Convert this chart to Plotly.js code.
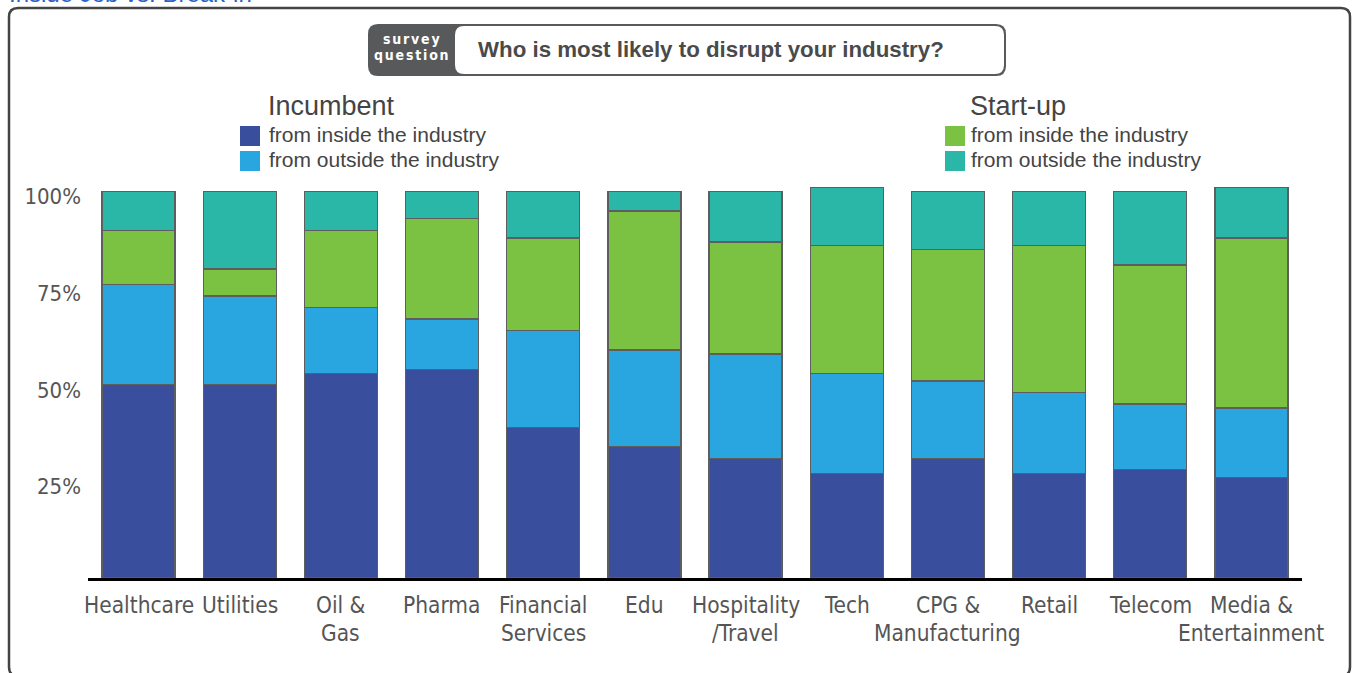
<!DOCTYPE html>
<html>
<head>
<meta charset="utf-8">
<script src="https://cdn.plot.ly/plotly-3.0.1.min.js"></script>
<style>html,body{margin:0;padding:0;background:#fff;}#chart{width:1353px;height:673px;}</style>
</head>
<body>
<div id="chart"></div>
<script>
// ---- data ----
const categories = ['Healthcare','Utilities','Oil & Gas','Pharma','Financial Services','Edu','Hospitality /Travel','Tech','CPG & Manufacturing','Retail','Telecom','Media & Entertainment'];
const tickLabels = ['Healthcare','Utilities','Oil &<br>Gas','Pharma','Financial<br>Services','Edu','Hospitality<br>/Travel','Tech','CPG &<br>Manufacturing','Retail','Telecom','Media &<br>Entertainment'];
const incumbentInside  = [50,50,53,54,39,34,31,27,31,27,28,26];
const incumbentOutside = [26,23,17,13,25,25,27,26,20,21,17,18];
const startupInside    = [14, 7,20,26,24,36,29,33,34,38,36,44];
const startupOutside   = [10,20,10, 7,12, 5,13,15,15,14,19,13];
const yTickVals = [25,50,75,100];
const yTickText = ['25%','50%','75%','100%'];
const seriesNames = ['Incumbent from inside the industry','Incumbent from outside the industry','Start-up from inside the industry','Start-up from outside the industry'];

// ---- styling ----
const W = 1353, H = 673;
const M = {l:88, r:51, t:153, b:95};
const colors = ['#394f9d','#29a6df','#7cc242','#2bb7a8'];
const narrow = '"Liberation Sans Narrow", "DejaVu Sans Condensed", sans-serif';
const sans = 'Arial, "Liberation Sans", Helvetica, sans-serif';
const textGray = '#555555';

const pw = W - M.l - M.r, ph = H - M.t - M.b;
const px = x => (x - M.l) / pw;
const py = y => (H - M.b - y) / ph;

function roundRect(x0, y0, x1, y1, r) {
  const X = px, Y = py;
  return `M${X(x0+r)},${Y(y0)} L${X(x1-r)},${Y(y0)} Q${X(x1)},${Y(y0)} ${X(x1)},${Y(y0+r)} ` +
         `L${X(x1)},${Y(y1-r)} Q${X(x1)},${Y(y1)} ${X(x1-r)},${Y(y1)} ` +
         `L${X(x0+r)},${Y(y1)} Q${X(x0)},${Y(y1)} ${X(x0)},${Y(y1-r)} ` +
         `L${X(x0)},${Y(y0+r)} Q${X(x0)},${Y(y0)} ${X(x0+r)},${Y(y0)} Z`;
}
function rect(x0, y0, x1, y1, fill) {
  return {type:'rect', xref:'paper', yref:'paper', x0:px(x0), x1:px(x1), y0:py(y1), y1:py(y0),
          fillcolor:fill, line:{width:0}, layer:'above'};
}

const seriesValues = [incumbentInside, incumbentOutside, startupInside, startupOutside];
const traces = seriesValues.map((vals, i) => ({
  type:'bar', x:categories, y:vals, name:seriesNames[i],
  marker:{color:colors[i], line:{color:'#5e5e5e', width:1.3}},
  hovertemplate:'%{x}: %{y}%<extra>'+seriesNames[i]+'</extra>'
}));

const shapes = [
  {type:'path', xref:'paper', yref:'paper', path:roundRect(9, 8, 1350, 676, 9), line:{color:'#444', width:2.5}, layer:'below'},
  {type:'path', xref:'paper', yref:'paper', path:roundRect(368, 24, 1006, 76, 10), fillcolor:'#58595b', line:{width:0}, layer:'above'},
  {type:'path', xref:'paper', yref:'paper', path:roundRect(455, 26, 1004, 74, 9), fillcolor:'#ffffff', line:{width:0}, layer:'above'},
  rect(240,126,260,146,colors[0]), rect(240,151,260,171,colors[1]),
  rect(945,126,965,146,colors[2]), rect(945,151,965,171,colors[3])
];

function ann(text, x, y, size, color, family, xanchor, extra) {
  return Object.assign({text:text, xref:'paper', yref:'paper', x:px(x), y:py(y), xanchor:xanchor||'left', yanchor:'middle',
    showarrow:false, font:{size:size, color:color, family:family}}, extra||{});
}
const annotations = [
  ann('Inside Job vs. Break-in', 7, 1, 24, '#2a62c8', sans, 'left', {yanchor:'bottom', y:py(9)}),
  ann('<b><span style="letter-spacing:1.8px">survey</span></b>', 412, 39, 14, '#ffffff', narrow, 'center'),
  ann('<b><span style="letter-spacing:1.8px">question</span></b>', 412, 55, 14, '#ffffff', narrow, 'center'),
  ann('<b>Who is most likely to disrupt your industry?</b>', 476, 50, 22.3, '#4a4a4a', sans, 'left'),
  ann('Incumbent', 266, 106, 27, '#444', sans),
  ann('from inside the industry', 267, 134, 21, '#444', sans),
  ann('from outside the industry', 267, 159, 21, '#444', sans),
  ann('Start-up', 968, 106, 27, '#444', sans),
  ann('from inside the industry', 969, 134, 21, '#444', sans),
  ann('from outside the industry', 969, 159, 21, '#444', sans)
];
// category labels under the axis, one annotation per line
tickLabels.forEach((lab, i) => {
  lab.split('<br>').forEach((line, j) => {
    annotations.push({text:line, x:categories[i], xref:'x', y:0, yref:'y', xanchor:'center', yanchor:'middle',
      yshift:-(27 + 28*j), showarrow:false, font:{size:22.5, color:textGray, family:narrow}});
  });
});

const layout = {
  width:W, height:H, margin:M, paper_bgcolor:'#fff', plot_bgcolor:'#fff',
  barmode:'stack', bargap:0.279, showlegend:false,
  xaxis:{type:'category', range:[-0.5, 11.5], showticklabels:false, ticks:'', showgrid:false, zeroline:false,
         showline:true, linecolor:'#000', linewidth:3, fixedrange:true},
  yaxis:{range:[0,110], tickvals:yTickVals, ticktext:yTickText, ticks:'', showgrid:false, zeroline:false, showline:false,
         tickfont:{size:22, color:textGray, family:narrow}, ticklabelshift:5, ticklabelstandoff:6, fixedrange:true},
  shapes:shapes, annotations:annotations
};
Plotly.newPlot('chart', traces, layout, {displayModeBar:false, staticPlot:true});
</script>
</body>
</html>
